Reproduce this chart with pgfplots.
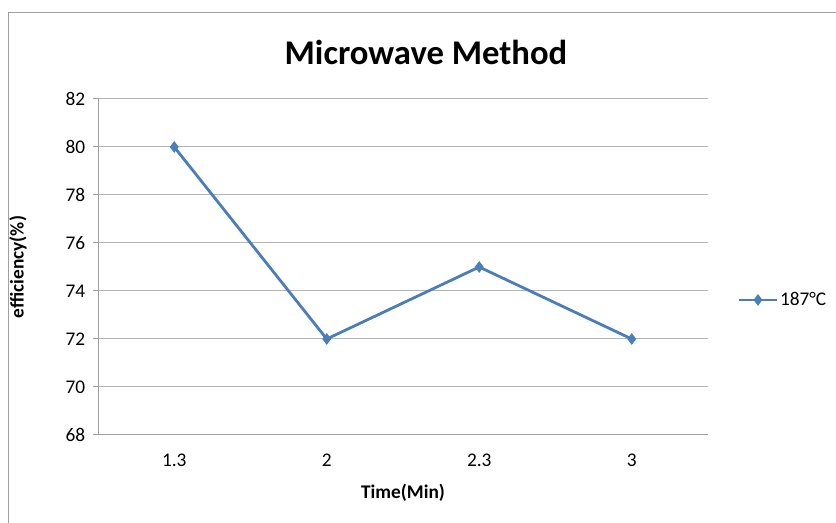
\documentclass[border=0pt]{standalone}
\usepackage{pgfplots}
\pgfplotsset{compat=1.18}
\usepackage{fontspec}
\setmainfont{Carlito}
\definecolor{lineblue}{HTML}{4A7EBB}
\definecolor{axisgray}{HTML}{A0A0A0}
\definecolor{gridgray}{HTML}{B4B4B4}
\begin{document}
\begin{tikzpicture}
\useasboundingbox (0,0) rectangle (627pt,392.25pt);
\draw[color=axisgray, line width=0.75pt] (6pt,-2pt) -- (6pt,382.5pt) -- (630pt,382.5pt);
\node[font=\fontsize{26}{28}\selectfont\bfseries] at (319.5pt,353.25pt) {Microwave Method};
\begin{axis}[
  at={(73.5pt,66pt)}, anchor=south west,
  scale only axis, width=457.5pt, height=252pt,
  xmin=-0.5, xmax=3.5, ymin=68, ymax=82,
  ytick={68,70,...,82},
  xtick={0,1,2,3},
  xticklabels={1.3,2,2.3,3},
  extra x ticks={-0.5,0.5,1.5,2.5,3.5},
  extra x tick labels={},
  extra x tick style={major tick length=4.5pt, tick align=outside, grid=none},
  axis x line*=bottom, axis y line*=left,
  axis line style={-, color=axisgray, line width=0.75pt},
  major tick style={color=axisgray, line width=0.75pt},
  tick align=outside,
  major tick length=4pt,
  x tick style={draw=none},
  ymajorgrids,
  major grid style={color=gridgray, line width=0.75pt},
  tick label style={font=\fontsize{14.5}{16}\selectfont},
  /pgf/number format/assume math mode=true,
  yticklabel style={xshift=-2pt},
  xticklabel style={yshift=-6.5pt},
  xlabel={\textbf{Time(Min)}},
  ylabel={\textbf{efficiency(\%)}},
  label style={font=\fontsize{14.5}{16}\selectfont},
  xlabel style={at={(axis description cs:0.5,0)}, anchor=center, yshift=-43.5pt},
  every axis y label/.append style={at={(-60pt,126pt)}, anchor=center},
  legend style={at={(axis description cs:1.0475,0.402)}, anchor=west, draw=none, fill=none, inner sep=0pt,
    font=\fontsize{14.5}{16}\selectfont, nodes={inner sep=1pt}},
  legend image code/.code={\draw[mark repeat=2,mark phase=2,#1] plot coordinates {(0pt,0pt)(14.5pt,0pt)(29pt,0pt)};},
  clip=false,
]
\addplot[color=lineblue, line width=2.1pt, mark=diamond*, mark size=3.6pt, mark options={solid, fill=lineblue, line width=1pt}]
  coordinates {(0,80) (1,72) (2,75) (3,72)};
\legend{187°C}
\end{axis}
\end{tikzpicture}
\end{document}
